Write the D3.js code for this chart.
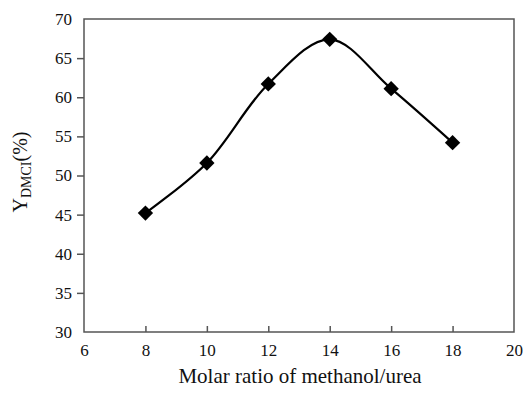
<!DOCTYPE html>
<html>
<head>
<meta charset="utf-8">
<script src="https://cdn.jsdelivr.net/npm/d3@7"></script>
<style>
  body { margin: 0; background: #fff; }
</style>
</head>
<body>
<div id="chart"></div>
<script>
// data
const ratios = [8, 10, 12, 14, 16, 18];
const yields = [45.2, 51.6, 61.7, 67.4, 61.1, 54.2];
const xTicks = [6, 8, 10, 12, 14, 16, 18, 20];
const yTicks = [30, 35, 40, 45, 50, 55, 60, 65, 70];

const serif = '"Liberation Serif", "DejaVu Serif", serif';
const width = 523, height = 393;
const margin = { top: 19, right: 9, bottom: 61, left: 84 };
const innerW = width - margin.left - margin.right;
const innerH = height - margin.top - margin.bottom;

const svg = d3.select('#chart').append('svg')
    .attr('width', width)
    .attr('height', height);

const g = svg.append('g')
    .attr('transform', `translate(${margin.left},${margin.top})`);

const x = d3.scaleLinear().domain([6, 20]).range([0, innerW]);
const y = d3.scaleLinear().domain([30, 70]).range([innerH, 0]);

// plot frame
g.append('rect')
    .attr('width', innerW)
    .attr('height', innerH)
    .attr('fill', 'none')
    .attr('stroke', '#555')
    .attr('stroke-width', 1.5);

// x axis, ticks pointing inward
const xAxis = g.append('g')
    .attr('transform', `translate(0,${innerH})`)
    .call(d3.axisBottom(x).tickValues(xTicks).tickSizeInner(-6).tickSizeOuter(0).tickPadding(12));
xAxis.attr('font-family', null).attr('font-size', null);
xAxis.select('.domain').remove();
xAxis.selectAll('line').attr('stroke', '#555').attr('stroke-width', 1.5);
xAxis.selectAll('text')
    .style('font-family', serif)
    .style('font-size', '17px')
    .attr('fill', '#111');
// the end ticks sit on the frame already
xAxis.selectAll('.tick line').filter(d => d === 6 || d === 20).remove();

// y axis, ticks pointing outward
const yAxis = g.append('g')
    .call(d3.axisLeft(y).tickValues(yTicks).tickSizeInner(7).tickSizeOuter(0).tickPadding(5));
yAxis.attr('font-family', null).attr('font-size', null);
yAxis.select('.domain').remove();
yAxis.selectAll('line').attr('stroke', '#555').attr('stroke-width', 1.5);
yAxis.selectAll('text')
    .style('font-family', serif)
    .style('font-size', '17px')
    .attr('fill', '#111');
yAxis.selectAll('.tick line').filter(d => d === 70 || d === 30).remove();

// smoothed line
const points = ratios.map((r, i) => ({ r, v: yields[i] }));
const line = d3.line()
    .x(d => x(d.r))
    .y(d => y(d.v))
    .curve(d3.curveCatmullRom.alpha(0.5));

g.append('path')
    .datum(points)
    .attr('d', line)
    .attr('fill', 'none')
    .attr('stroke', '#000')
    .attr('stroke-width', 2.2);

// diamond markers
g.selectAll('.marker')
    .data(points)
    .join('path')
    .attr('class', 'marker')
    .attr('transform', d => `translate(${x(d.r)},${y(d.v)})`)
    .attr('d', d3.symbol(d3.symbolDiamond2, 150))
    .attr('fill', '#000');

// axis titles
svg.append('text')
    .attr('x', 300)
    .attr('y', 383)
    .attr('text-anchor', 'middle')
    .style('font-family', serif)
    .style('font-size', '21px')
    .attr('fill', '#111')
    .text('Molar ratio of methanol/urea');

const yTitle = svg.append('text')
    .attr('transform', 'translate(27,172) rotate(-90)')
    .attr('text-anchor', 'middle')
    .style('font-family', serif)
    .style('font-size', '20px')
    .attr('fill', '#111');
yTitle.append('tspan').text('Y');
yTitle.append('tspan').attr('dy', 4).style('font-size', '14px').text('DMCI');
yTitle.append('tspan').attr('dy', -4).text('(%)');
</script>
</body>
</html>
